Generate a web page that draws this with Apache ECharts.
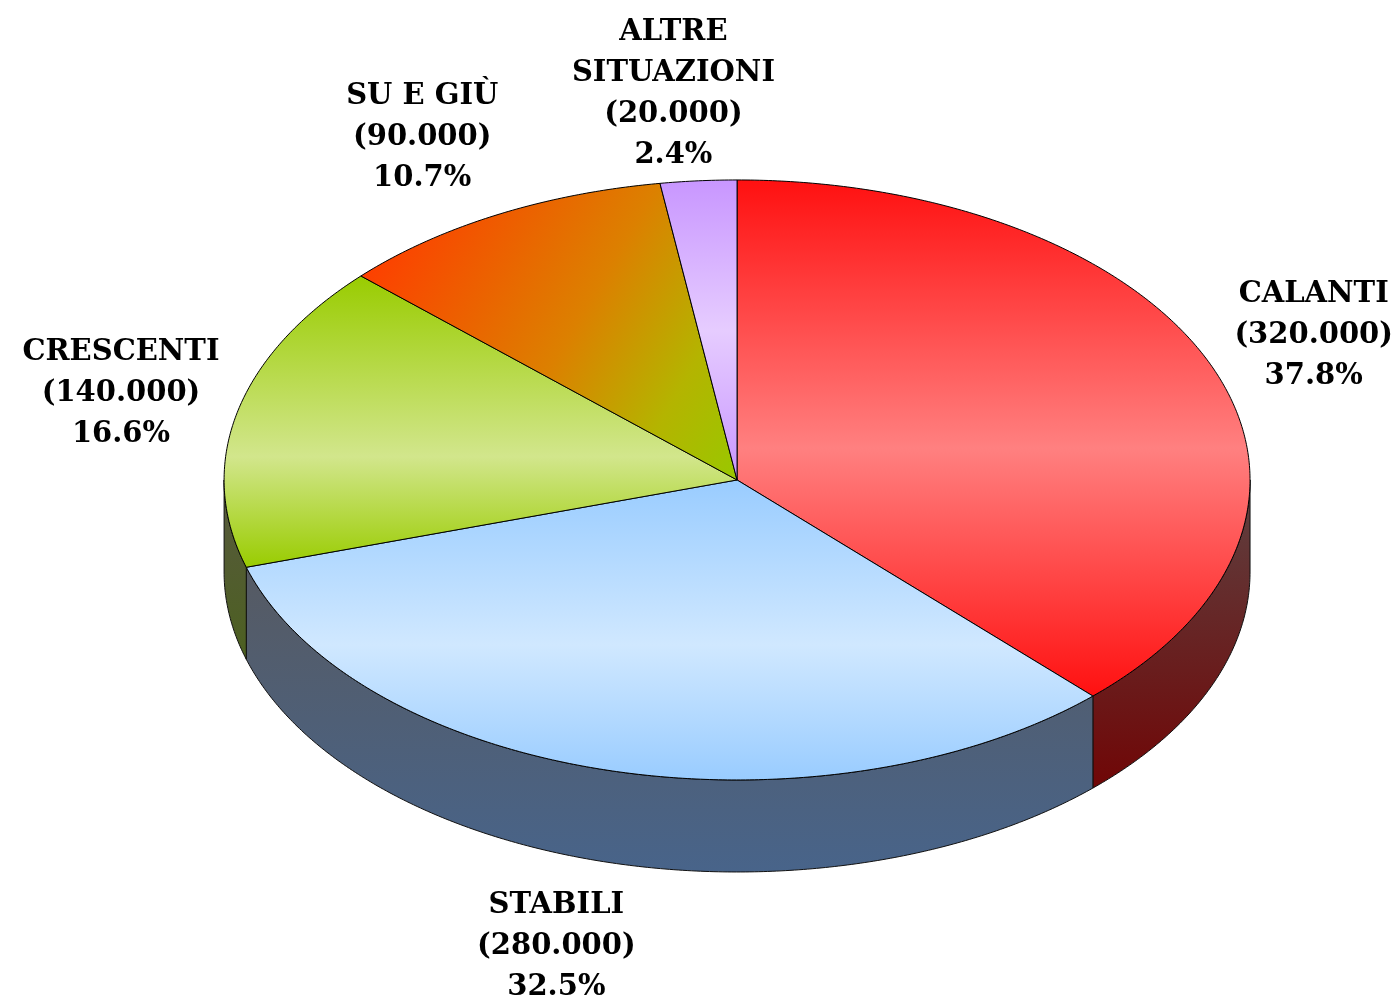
<!DOCTYPE html>
<html>
<head>
<meta charset="utf-8">
<script src="https://cdn.jsdelivr.net/npm/echarts@6/dist/echarts.min.js"></script>
<style>html,body{margin:0;padding:0;background:#fff;}#c{width:1397px;height:997px;}</style>
</head>
<body>
<div id="c"></div>
<script>
// ---- data ----
const categories = ['CALANTI', 'STABILI', 'CRESCENTI', 'SU E GIÙ', 'ALTRE\nSITUAZIONI'];
const counts = [320000, 280000, 140000, 90000, 20000];
const percents = [37.8, 32.5, 16.6, 10.7, 2.4];

// ---- styles ----
const topStops = [
  [[0, '#ff1010'], [0.52, '#ff8080'], [1, '#ff1010']],
  [[0, '#99ccff'], [0.55, '#d0e8ff'], [1, '#99ccff']],
  [[0, '#99cc00'], [0.62, '#d2e68c'], [1, '#99cc00']],
  [[0, '#ff3c00'], [0.5, '#dc8000'], [0.78, '#b4b400'], [1, '#99c800']],
  [[0, '#c896ff'], [0.5, '#e6ccff'], [1, '#c896ff']]
];
const topDir = [[0, 0, 0, 1], [0, 0, 0, 1], [0, 0, 0, 1], [0, 0.25, 1, 1], [0, 0, 0, 1]];
const wallStops = [
  [[0, '#5e4242'], [1, '#700606']],
  [[0, '#565a62'], [1, '#48648a']],
  [[0, '#58593f'], [1, '#4c6020']],
  [[0, '#6a4a10'], [1, '#4c6020']],
  [[0, '#7a6a90'], [1, '#6a5a80']]
];
const geo = { cx: 0.5276, cy: 0.4814, rx: 0.3672, ry: 0.3009, depth: 0.0923 };
const labelFont = { family: 'DejaVu Serif', weight: 'bold', size: 29, lineHeight: 41 };

const total = percents.reduce((a, b) => a + b, 0);
let acc = 0;
const sliceData = percents.map((p, i) => {
  const s = acc / total; acc += p; const e = acc / total;
  return [s, e, i];
});

function fmt(n) { return String(n).replace(/\B(?=(\d{3})+(?!\d))/g, '.'); }

const measureCtx = document.createElement('canvas').getContext('2d');
function halfWidth(text) {
  measureCtx.font = labelFont.weight + ' ' + labelFont.size + 'px "' + labelFont.family + '"';
  return Math.max.apply(null, text.split('\n').map(l => measureCtx.measureText(l).width)) / 2;
}

function G(api) {
  const w = api.getWidth(), h = api.getHeight();
  return { w: w, h: h, cx: geo.cx * w, cy: geo.cy * h, rx: geo.rx * w, ry: geo.ry * h, d: geo.depth * h };
}
function pt(g, t, dy) {
  const a = t * Math.PI * 2;
  return [g.cx + g.rx * Math.sin(a), g.cy - g.ry * Math.cos(a) + (dy || 0)];
}
function arc(g, a, b, dy) {
  const n = Math.max(2, Math.ceil(Math.abs(b - a) * 720));
  const out = [];
  for (let k = 0; k <= n; k++) out.push(pt(g, a + (b - a) * k / n, dy));
  return out;
}
function grad(stops, d) {
  return new echarts.graphic.LinearGradient(d[0], d[1], d[2], d[3], stops.map(s => ({ offset: s[0], color: s[1] })));
}

const option = {
  animation: false,
  backgroundColor: '#ffffff',
  series: [
    {
      type: 'custom', coordinateSystem: 'none', z: 1, silent: true,
      data: sliceData,
      renderItem(params, api) {
        const g = G(api);
        const s = api.value(0), e = api.value(1), i = api.value(2);
        const a = Math.max(s, 0.25), b = Math.min(e, 0.75);
        if (a >= b) return { type: 'group', children: [] };
        const pts = arc(g, a, b, 0).concat(arc(g, b, a, g.d));
        return {
          type: 'polygon', shape: { points: pts },
          style: { fill: grad(wallStops[i], [0, 0, 0, 1]), stroke: '#111', lineWidth: 1 }
        };
      }
    },
    {
      type: 'custom', coordinateSystem: 'none', z: 2, silent: true,
      data: sliceData,
      renderItem(params, api) {
        const g = G(api);
        const s = api.value(0), e = api.value(1), i = api.value(2);
        const pts = [[g.cx, g.cy]].concat(arc(g, s, e, 0));
        const m = (s + e) / 2 * Math.PI * 2;
        const c = Math.cos(m), sn = Math.sin(m);
        const text = categories[i] + '\n(' + fmt(counts[i]) + ')\n' + percents[i].toFixed(1) + '%';
        const hw = halfWidth(text);
        let lx = g.cx + g.rx * (sn + 0.23 * Math.sign(sn) * Math.pow(Math.abs(sn), 0.6));
        lx = Math.min(Math.max(lx, hw + 4), g.w - hw - 4);
        const ly = g.cy - 1.29 * g.ry * c + (c < 0 ? g.d : 0);
        return {
          type: 'group',
          children: [
            { type: 'polygon', shape: { points: pts },
              style: { fill: grad(topStops[i], topDir[i]), stroke: '#000', lineWidth: 1 } },
            { type: 'text', x: lx, y: ly,
              style: {
                text: text,
                fontFamily: labelFont.family, fontWeight: labelFont.weight,
                fontSize: labelFont.size, lineHeight: labelFont.lineHeight,
                fill: '#000', align: 'center', verticalAlign: 'middle'
              } }
          ]
        };
      }
    }
  ]
};
const chart = echarts.init(document.getElementById('c'), null, { renderer: 'canvas' });
chart.setOption(option);
</script>
</body>
</html>
